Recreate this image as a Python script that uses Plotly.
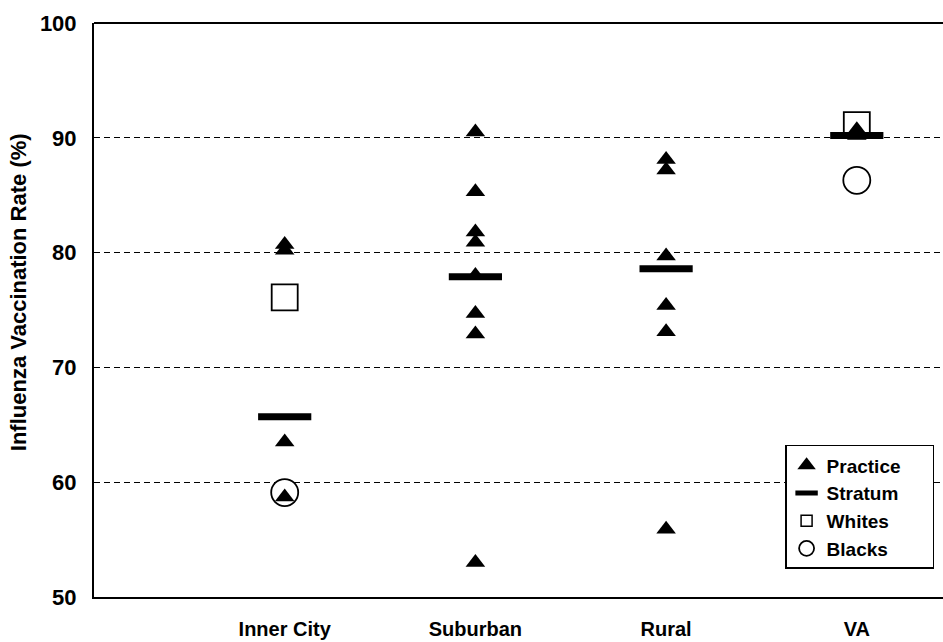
import plotly.graph_objects as go

categories = ["Inner City", "Suburban", "Rural", "VA"]
cat_pos = [1, 2, 3, 4]

# Practice-level rates (triangles)
practice_x = ["Inner City", "Inner City", "Inner City", "Inner City",
              "Suburban", "Suburban", "Suburban", "Suburban", "Suburban", "Suburban", "Suburban", "Suburban",
              "Rural", "Rural", "Rural", "Rural", "Rural", "Rural",
              "VA", "VA"]
practice_y = [80.7, 80.2, 63.5, 58.7,
              90.5, 85.3, 81.8, 80.9, 78.0, 74.7, 72.9, 53.0,
              88.1, 87.2, 79.7, 75.4, 73.1, 55.9,
              90.7, 90.2]

# Stratum means (bars)
stratum_y = [65.7, 77.9, 78.6, 90.2]

# Race-specific rates
whites_x = ["Inner City", "VA"]
whites_y = [76.1, 91.1]
blacks_x = ["Inner City", "VA"]
blacks_y = [59.1, 86.3]

y_ticks = [50, 60, 70, 80, 90, 100]
legend_names = ["Practice", "Stratum", "Whites", "Blacks"]

pos = dict(zip(categories, cat_pos))
FONT = "Liberation Sans, Arial, sans-serif"

fig = go.Figure()

# plotted marks
fig.add_trace(go.Scatter(x=[pos[c] for c in whites_x], y=whites_y, mode="markers", showlegend=False,
                         marker=dict(symbol="square", size=26, color="white",
                                     line=dict(color="black", width=1.8))))
fig.add_trace(go.Scatter(x=[pos[c] for c in blacks_x], y=blacks_y, mode="markers", showlegend=False,
                         marker=dict(symbol="circle", size=27, color="white",
                                     line=dict(color="black", width=1.8))))
fig.add_trace(go.Scatter(x=cat_pos, y=stratum_y, mode="markers", showlegend=False,
                         marker=dict(symbol="line-ew", size=38, color="black",
                                     line=dict(color="black", width=7))))
fig.add_trace(go.Scatter(x=[pos[c] for c in practice_x], y=practice_y, mode="markers", showlegend=False,
                         marker=dict(symbol="triangle-up", size=17, color="black",
                                     line=dict(width=0))))

# legend entries
pad = "&nbsp;" * 5
fig.add_trace(go.Scatter(x=[None], y=[None], mode="markers", name=legend_names[0] + pad,
                         marker=dict(symbol="triangle-up", size=16, color="black", line=dict(width=0))))
fig.add_trace(go.Scatter(x=[None], y=[None], mode="markers", name=legend_names[1],
                         marker=dict(symbol="line-ew", size=16, color="black",
                                     line=dict(color="black", width=5))))
fig.add_trace(go.Scatter(x=[None], y=[None], mode="markers", name=legend_names[2],
                         marker=dict(symbol="square", size=11, color="white",
                                     line=dict(color="black", width=1.5))))
fig.add_trace(go.Scatter(x=[None], y=[None], mode="markers", name=legend_names[3],
                         marker=dict(symbol="circle", size=15, color="white",
                                     line=dict(color="black", width=1.8))))

fig.update_layout(
    width=943, height=642,
    margin=dict(l=94, r=0, t=23, b=45, autoexpand=False),
    paper_bgcolor="white", plot_bgcolor="white",
    font=dict(family=FONT, color="black"),
    showlegend=True,
    legend=dict(x=0.814, y=0.265, xanchor="left", yanchor="top",
                bgcolor="white", bordercolor="black", borderwidth=1.5,
                font=dict(size=19, family=FONT, color="black", weight="bold"),
                tracegroupgap=0, itemwidth=30),
    xaxis=dict(range=[0, 4.452], tickmode="array", tickvals=cat_pos, ticktext=categories,
               showgrid=False, zeroline=False, showline=True, linecolor="black", linewidth=2,
               ticks="", ticklabelstandoff=13, automargin=False,
               tickfont=dict(size=20, family=FONT, color="black", weight="bold")),
    yaxis=dict(range=[50, 100], tickmode="array", tickvals=y_ticks,
               showgrid=True, gridcolor="black", gridwidth=1.3, griddash="6px,4px",
               zeroline=False, showline=True, linecolor="black", linewidth=2,
               ticks="", ticklabelstandoff=11, automargin=False,
               tickfont=dict(size=22, family=FONT, color="black", weight="bold")),
    shapes=[dict(type="line", xref="paper", yref="paper", x0=0, x1=1, y0=1, y1=1,
                 line=dict(color="black", width=2))],
    annotations=[dict(text="Influenza Vaccination Rate (%)", textangle=-90,
                      xref="paper", yref="paper", x=-0.0895, y=0.531,
                      xanchor="center", yanchor="middle", showarrow=False,
                      font=dict(size=22, family=FONT, color="black", weight="bold"))],
)

fig.write_html("out.html", config={"displayModeBar": False},
               post_script="document.body.style.margin='0';document.body.style.overflow='hidden';")
